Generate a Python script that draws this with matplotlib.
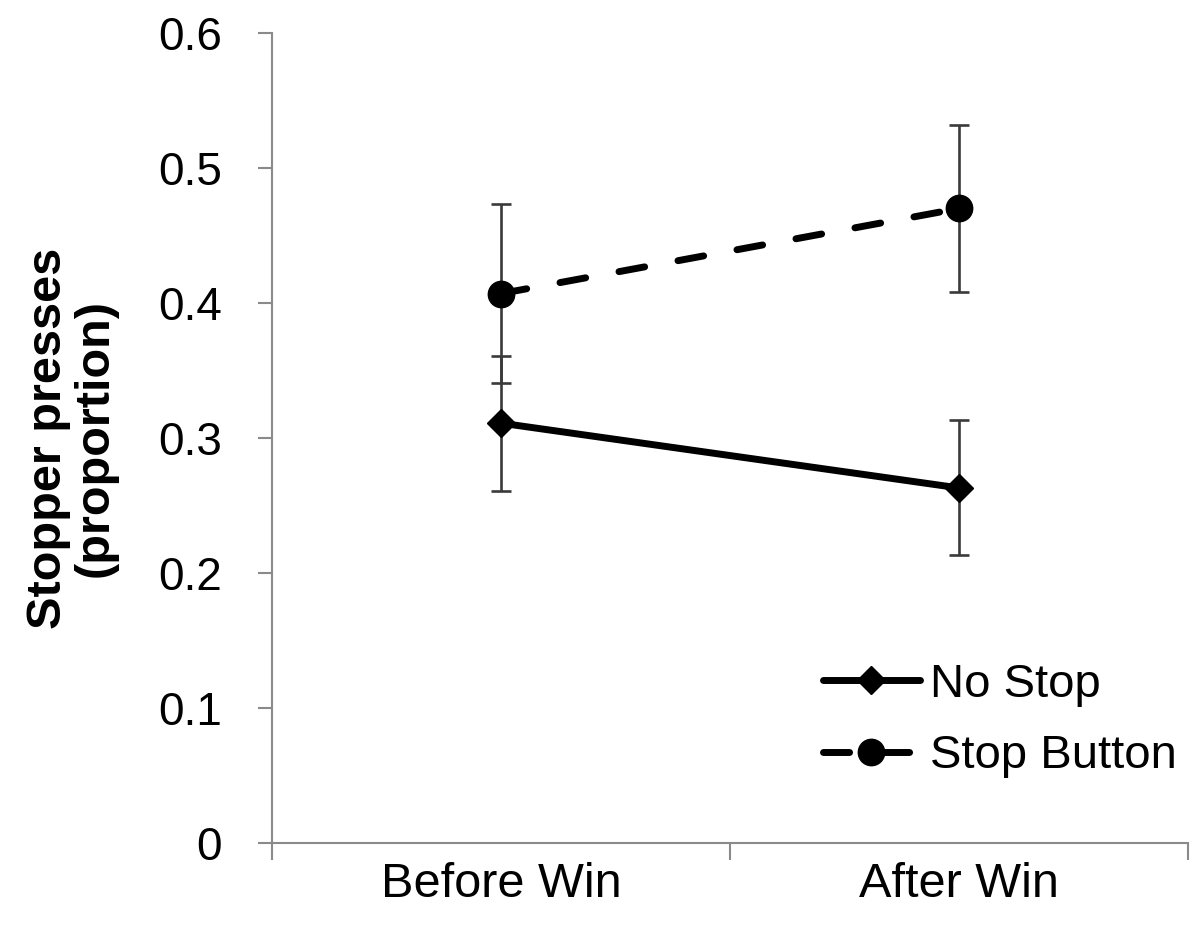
import matplotlib
matplotlib.use("Agg")
import matplotlib.pyplot as plt

plt.rcParams['font.family'] = ['Liberation Sans', 'DejaVu Sans']

categories = ["Before Win", "After Win"]
no_stop = [0.311, 0.263]
no_stop_err = [0.050, 0.050]
stop_button = [0.407, 0.470]
stop_button_err = [0.066, 0.062]
yticks = [0, 0.1, 0.2, 0.3, 0.4, 0.5, 0.6]
ytick_labels = ["0", "0.1", "0.2", "0.3", "0.4", "0.5", "0.6"]

fig = plt.figure(figsize=(11.98, 9.30), dpi=100)
ax = fig.add_axes([272/1198, 1-843/930, (1188-272)/1198, (843-33)/930])

xpos = [i + 0.5 for i in range(len(categories))]

ax.errorbar(xpos, no_stop, yerr=no_stop_err, fmt='none', ecolor='#3a3a3a',
            elinewidth=1.9, capsize=7, capthick=1.9, zorder=2)
ax.errorbar(xpos, stop_button, yerr=stop_button_err, fmt='none', ecolor='#3a3a3a',
            elinewidth=1.9, capsize=7, capthick=1.9, zorder=2)

ax.plot(xpos, no_stop, color='black', lw=5, marker='D', ms=14,
        solid_capstyle='round', label='No Stop', zorder=3)
ax.plot(xpos, stop_button, color='black', lw=5, marker='o', ms=19,
        linestyle=(0, (3.76, 4.88)), dash_capstyle='round', label='Stop Button', zorder=3)

ax.set_xlim(0, len(categories))
ax.set_ylim(0, 0.6)
ax.set_yticks(yticks)
ax.set_yticklabels(ytick_labels)
ax.set_xticks(range(len(categories) + 1))
ax.set_xticklabels([])
ax.set_xticks(xpos, minor=True)
ax.set_xticklabels(categories, minor=True)

for s in ['top', 'right']:
    ax.spines[s].set_visible(False)
for s in ['left', 'bottom']:
    ax.spines[s].set_color('#8a8a8a')
    ax.spines[s].set_linewidth(1.5)

ax.tick_params(axis='y', which='major', direction='out', length=10, width=1.5,
               color='#8a8a8a', labelsize=33, pad=26)
ax.tick_params(axis='x', which='major', direction='out', length=12, width=1.5,
               color='#8a8a8a')
ax.tick_params(axis='x', which='minor', length=0, labelsize=35, pad=14)

ax.set_ylabel("Stopper presses\n(proportion)", fontsize=35, fontweight='bold',
              linespacing=1.05)
ax.yaxis.set_label_coords(-0.168, 0.5)

leg = ax.legend(loc='center left', frameon=False, fontsize=34, handlelength=2.05,
                handletextpad=0.21, labelspacing=0.59, borderaxespad=0, borderpad=0,
                bbox_to_anchor=(823/1198, 1-720.5/930), bbox_transform=fig.transFigure)

fig.savefig("out.png", dpi=100)
